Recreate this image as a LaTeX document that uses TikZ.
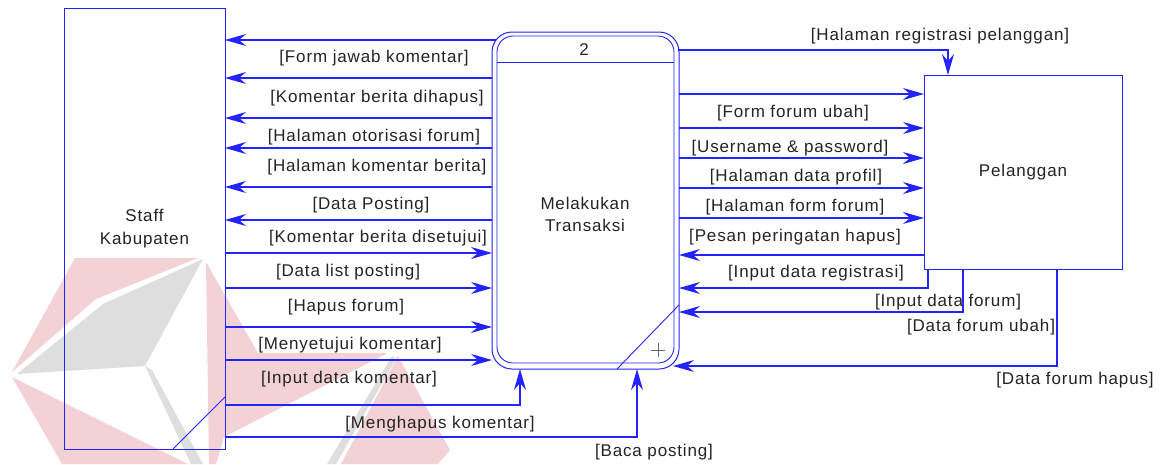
\documentclass[tikz,border=0pt]{standalone}
\usepackage{fontspec}
\setmainfont{Liberation Sans}[LetterSpace=5]
\usetikzlibrary{arrows.meta,calc}
\definecolor{ln}{RGB}{35,35,255}
\definecolor{wpink}{RGB}{243,210,214}
\definecolor{wgray}{RGB}{222,222,222}
\definecolor{tx}{RGB}{35,35,35}
\begin{document}
\begin{tikzpicture}[x=1pt,y=-1pt,
  entity/.style={draw=ln, line width=1pt, fill=none, outer sep=0pt, inner sep=0pt,
    align=center, font=\fontsize{17}{23}\selectfont, text=tx},
  lbl/.style={font=\fontsize{17}{20}\selectfont, text=tx, inner sep=0pt},
  flow/.style={draw=ln, line width=1.1pt, -{Stealth[length=21pt,width=12pt,inset=7pt]}},
  thin/.style={draw=ln, line width=0.9pt},
]
\useasboundingbox (0,0) rectangle (1161,464);
% watermark
\fill[wpink] (75,258) -- (198,258) -- (96,299) -- (12,372) -- cycle;
\fill[wgray] (203,259) -- (103,304) -- (17,374) -- (145,366) -- cycle;
\fill[wgray] (145,366) -- (152,370) -- (203,464) -- (191,464) -- cycle;
\fill[wpink] (12,377) -- (188,464) -- (62,464) -- cycle;
\fill[wpink] (206,262) -- (258,353) -- (388,353) -- (224,437) -- (216,464) -- (209,464) -- cycle;
\fill[wgray] (392,356) -- (396,359) -- (336,464) -- (327,464) -- cycle;
\fill[wpink] (398,356) -- (450,450) -- (438,464) -- (341,464) -- cycle;

% entities
\node[entity, minimum width=161pt, minimum height=441pt] (staff) at (144.5,228.5) {Staff\\Kabupaten};
\node[entity, minimum width=198pt, minimum height=194pt] (pel) at (1023,172) {Pelanggan};
\node[entity, rounded corners=20pt, minimum width=187pt, minimum height=337pt] (proc) at (585.5,200.5) {};
\draw[thin, rounded corners=16pt] ($(proc.north west)+(5,4)$) rectangle ($(proc.south east)+(-5,-6)$);
\draw[thin] ($(proc.north west)+(5,30)$) -- ($(proc.north east)+(-5,30)$);
\node[lbl] (pnum) at (584,50) {2};
\node[lbl, align=center, font=\fontsize{17}{22}\selectfont] (pname) at (585,214) {Melakukan\\Transaksi};
\draw[thin] ($(proc.south west)+(125,0)$) -- ($(proc.south east)+(0,-64)$);
\draw[black!60, line width=0.8pt] (651,350) -- (665,350) (658,343) -- (658,357);
\draw[thin] ($(staff.south east)+(-52,0)$) -- ($(staff.south east)+(0,-52)$);

% flows to staff
\draw[flow] (proc.west |- 0,40) ++(4,0) -- (staff.east |- 0,40);
\draw[flow] (proc.west |- 0,78) -- (staff.east |- 0,78);
\draw[flow] (proc.west |- 0,118) -- (staff.east |- 0,118);
\draw[flow] (proc.west |- 0,148) -- (staff.east |- 0,148);
\draw[flow] (proc.west |- 0,187) -- (staff.east |- 0,187);
\draw[flow] (proc.west |- 0,220) -- (staff.east |- 0,220);
% flows from staff
\draw[flow] (staff.east |- 0,253) -- (proc.west |- 0,253);
\draw[flow] (staff.east |- 0,288) -- (proc.west |- 0,288);
\draw[flow] (staff.east |- 0,327) -- (proc.west |- 0,327);
\draw[flow] (staff.east |- 0,360) -- (proc.west |- 0,360);
\draw[flow] (staff.east |- 0,405) -- (520,405) -- (520,369);
\draw[flow] (staff.east |- 0,437) -- (637,437) -- (637,369);

% flows to pelanggan
\draw[flow] (proc.east |- 0,50) ++(-1,0) -- (948,50) -- (948,75);
\draw[flow] (proc.east |- 0,94) -- (pel.west |- 0,94);
\draw[flow] (proc.east |- 0,128) -- (pel.west |- 0,128);
\draw[flow] (proc.east |- 0,158) -- (pel.west |- 0,158);
\draw[flow] (proc.east |- 0,188) -- (pel.west |- 0,188);
\draw[flow] (proc.east |- 0,218) -- (pel.west |- 0,218);
% flows from pelanggan
\draw[flow] (pel.west |- 0,255) -- (proc.east |- 0,255);
\draw[flow] (928,269) -- (928,288) -- (proc.east |- 0,288);
\draw[flow] (963,269) -- (963,312) -- (proc.east |- 0,312);
\draw[flow] (1057,269) -- (1057,366) -- (673,366);

% labels
\node[lbl] (l1) at (374,58) {[Form jawab komentar]};
\node[lbl] (l2) at (377,98) {[Komentar berita dihapus]};
\node[lbl] (l3) at (374,137) {[Halaman otorisasi forum]};
\node[lbl] (l4) at (377,167) {[Halaman komentar berita]};
\node[lbl] (l5) at (371,205) {[Data Posting]};
\node[lbl] (l6) at (378,238) {[Komentar berita disetujui]};
\node[lbl] (l7) at (348,272) {[Data list posting]};
\node[lbl] (l8) at (346,307) {[Hapus forum]};
\node[lbl] (l9) at (350,345) {[Menyetujui komentar]};
\node[lbl] (l10) at (349,379) {[Input data komentar]};
\node[lbl] (l11) at (440,424) {[Menghapus komentar]};
\node[lbl] (l12) at (654,452) {[Baca posting]};
\node[lbl] (r1) at (940,36) {[Halaman registrasi pelanggan]};
\node[lbl] (r2) at (793,113) {[Form forum ubah]};
\node[lbl] (r3) at (790,148) {[Username \& password]};
\node[lbl] (r4) at (796,177) {[Halaman data profil]};
\node[lbl] (r5) at (795,207) {[Halaman form forum]};
\node[lbl] (r6) at (795,237) {[Pesan peringatan hapus]};
\node[lbl] (r7) at (816,273) {[Input data registrasi]};
\node[lbl] (r8) at (948,302) {[Input data forum]};
\node[lbl] (r9) at (981,327) {[Data forum ubah]};
\node[lbl] (r10) at (1075,380) {[Data forum hapus]};
\end{tikzpicture}
\end{document}
